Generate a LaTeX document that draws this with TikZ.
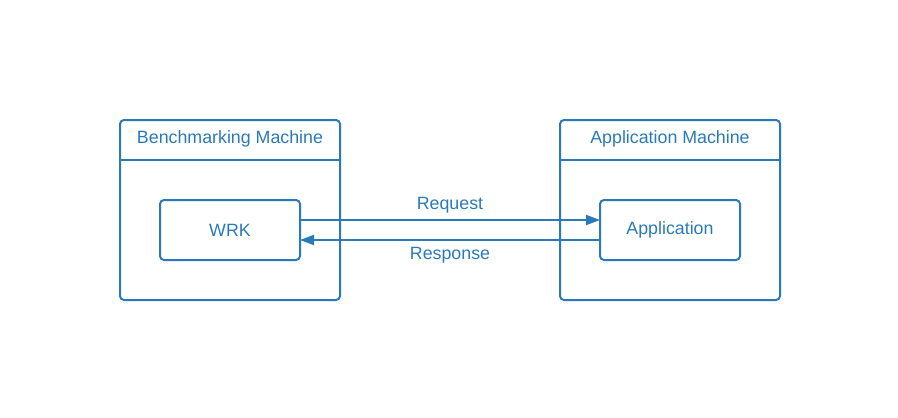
\documentclass[tikz,border=0pt]{standalone}
\usepackage{fontspec}
\setmainfont{Liberation Sans}
\usetikzlibrary{arrows.meta,calc}
\definecolor{lblue}{RGB}{42,122,185}
\begin{document}
\begin{tikzpicture}[x=1pt,y=-1pt,
  box/.style={draw=lblue,line width=2pt,rounded corners=4pt,inner sep=0pt,outer sep=0pt},
  outerbox/.style={box,minimum width=220pt,minimum height=180pt},
  innerbox/.style={box,minimum width=140pt,minimum height=60pt,text=lblue,font=\fontsize{17.8}{20}\selectfont},
  lbl/.style={text=lblue,font=\fontsize{17.8}{20}\selectfont,inner sep=0pt},
  conn/.style={draw=lblue,line width=2pt,-{Triangle[length=14pt,width=10pt]}}]
\useasboundingbox (0,0) rectangle (898,418);
\node[outerbox] (bench) at (230,210) {};
\node[outerbox] (appm) at (670,210) {};
\node[lbl] (benchtitle) at (230,139) {Benchmarking Machine};
\node[lbl] (appmtitle) at (670,139) {Application Machine};
\draw[draw=lblue,line width=2pt] ($(bench.north west)+(0,40)$) -- ($(bench.north east)+(0,40)$);
\draw[draw=lblue,line width=2pt] ($(appm.north west)+(0,40)$) -- ($(appm.north east)+(0,40)$);
\node[innerbox] (wrk) at (230,230) {WRK};
\node[innerbox] (app) at (670,230) {Application};
\draw[conn] ([yshift=10pt]wrk.east) -- node[lbl,yshift=15pt] (reqlbl) {Request} ([yshift=10pt]app.west);
\draw[conn] ([yshift=-10pt]app.west) -- node[lbl,yshift=-15pt] (resplbl) {Response} ([yshift=-10pt]wrk.east);
\end{tikzpicture}
\end{document}
